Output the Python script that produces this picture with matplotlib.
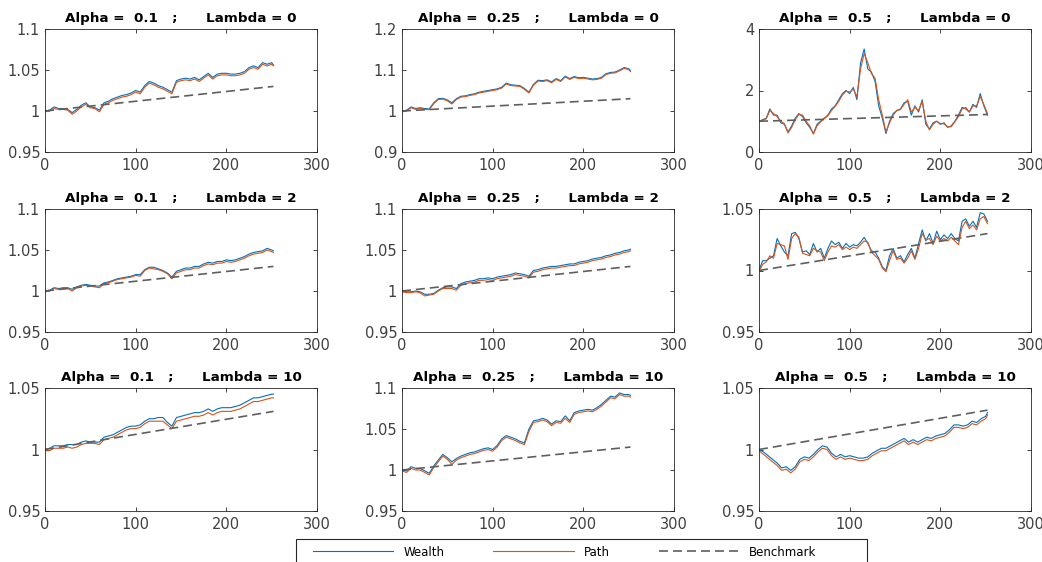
import matplotlib
matplotlib.use('Agg')
import matplotlib.pyplot as plt
from matplotlib.patches import Rectangle

plt.rcParams['font.family'] = ['DejaVu Sans']

blue = '#0072BD'
orange = '#D95319'
grey = '#5f5f5f'
axcol = '#262626'

# day grids (every 5 days / every 4 days for the noisy panels)
t5 = list(range(0, 251, 5)) + [252]
t4 = list(range(0, 253, 4))
bench_t = [0, 252]

alphas = ['0.1', '0.25', '0.5']
lambdas = ['0', '2', '10']

# ---- Lambda = 0 ----
w_a1_l0 = [1.000, 1.001, 1.005, 1.003, 1.003, 1.002, 0.998, 1.002, 1.007, 1.010,
           1.005, 1.004, 1.001, 1.010, 1.012, 1.015, 1.017, 1.019, 1.020, 1.022,
           1.025, 1.023, 1.031, 1.036, 1.034, 1.031, 1.029, 1.026, 1.023, 1.037,
           1.039, 1.040, 1.039, 1.041, 1.038, 1.042, 1.046, 1.041, 1.045, 1.046,
           1.046, 1.045, 1.045, 1.046, 1.048, 1.053, 1.055, 1.053, 1.059, 1.057,
           1.059, 1.056]
p_a1_l0 = [0.999, 1.000, 1.003, 1.002, 1.002, 1.001, 0.996, 1.000, 1.005, 1.008,
           1.004, 1.003, 0.999, 1.008, 1.010, 1.013, 1.015, 1.017, 1.018, 1.020,
           1.023, 1.021, 1.029, 1.034, 1.032, 1.029, 1.027, 1.024, 1.021, 1.035,
           1.037, 1.038, 1.037, 1.039, 1.036, 1.040, 1.044, 1.039, 1.043, 1.044,
           1.044, 1.043, 1.043, 1.044, 1.046, 1.051, 1.053, 1.051, 1.057, 1.055,
           1.057, 1.055]
b_a1_l0 = [1.0, 1.030]

w_a2_l0 = [1.000, 1.002, 1.010, 1.006, 1.008, 1.006, 1.005, 1.020, 1.030, 1.031,
           1.027, 1.020, 1.030, 1.036, 1.037, 1.040, 1.042, 1.046, 1.048, 1.050,
           1.052, 1.054, 1.058, 1.068, 1.064, 1.063, 1.062, 1.055, 1.046, 1.065,
           1.075, 1.074, 1.076, 1.071, 1.079, 1.074, 1.085, 1.079, 1.084, 1.081,
           1.082, 1.080, 1.078, 1.079, 1.082, 1.091, 1.094, 1.095, 1.100, 1.106,
           1.103, 1.098]
p_a2_l0 = [0.998, 1.000, 1.008, 1.004, 1.006, 1.004, 1.003, 1.018, 1.028, 1.029,
           1.025, 1.017, 1.028, 1.034, 1.035, 1.038, 1.040, 1.044, 1.046, 1.048,
           1.050, 1.052, 1.056, 1.066, 1.062, 1.061, 1.060, 1.053, 1.044, 1.063,
           1.073, 1.072, 1.074, 1.069, 1.077, 1.072, 1.083, 1.077, 1.082, 1.079,
           1.080, 1.078, 1.076, 1.077, 1.080, 1.089, 1.092, 1.093, 1.098, 1.104,
           1.101, 1.096]
b_a2_l0 = [1.0, 1.030]

w_a3_l0 = [1.00, 1.05, 1.10, 1.40, 1.20, 1.20, 0.95, 0.90, 0.65, 0.85,
           1.10, 1.25, 1.15, 0.95, 0.80, 0.60, 0.90, 1.00, 1.10, 1.20,
           1.40, 1.50, 1.70, 1.90, 2.00, 1.90, 2.10, 1.70, 2.90, 3.35,
           2.70, 2.60, 2.30, 1.50, 1.10, 0.60, 1.00, 1.25, 1.35, 1.40,
           1.60, 1.65, 1.20, 1.50, 1.30, 1.70, 0.90, 0.75, 0.95, 1.00,
           0.90, 0.95, 0.80, 0.85, 1.00, 1.20, 1.45, 1.40, 1.30, 1.55,
           1.45, 1.90, 1.50, 1.20]
p_a3_l0 = [1.00, 1.03, 1.08, 1.35, 1.25, 1.15, 1.00, 0.92, 0.62, 0.80,
           1.05, 1.22, 1.20, 1.00, 0.85, 0.58, 0.85, 0.98, 1.08, 1.18,
           1.35, 1.48, 1.65, 1.85, 1.98, 1.95, 2.05, 1.80, 2.70, 3.20,
           2.90, 2.55, 2.40, 1.70, 1.20, 0.65, 0.95, 1.20, 1.35, 1.38,
           1.55, 1.70, 1.30, 1.45, 1.35, 1.65, 1.00, 0.72, 0.90, 1.00,
           0.92, 0.92, 0.82, 0.82, 0.98, 1.15, 1.40, 1.45, 1.30, 1.50,
           1.50, 1.80, 1.55, 1.25]
b_a3_l0 = [1.0, 1.22]

# ---- Lambda = 2 ----
w_a1_l2 = [1.000, 1.001, 1.004, 1.003, 1.004, 1.004, 1.002, 1.005, 1.007, 1.008,
           1.007, 1.006, 1.006, 1.010, 1.011, 1.013, 1.015, 1.016, 1.017, 1.018,
           1.020, 1.020, 1.026, 1.029, 1.029, 1.027, 1.025, 1.022, 1.017, 1.024,
           1.026, 1.028, 1.028, 1.030, 1.030, 1.033, 1.035, 1.034, 1.036, 1.036,
           1.038, 1.037, 1.038, 1.040, 1.042, 1.045, 1.047, 1.048, 1.049, 1.052,
           1.050, 1.049]
p_a1_l2 = [0.999, 1.000, 1.003, 1.002, 1.003, 1.003, 1.000, 1.004, 1.006, 1.007,
           1.006, 1.005, 1.004, 1.009, 1.010, 1.012, 1.014, 1.015, 1.016, 1.017,
           1.019, 1.018, 1.025, 1.028, 1.027, 1.026, 1.024, 1.021, 1.015, 1.022,
           1.024, 1.026, 1.026, 1.028, 1.028, 1.031, 1.033, 1.032, 1.034, 1.034,
           1.036, 1.035, 1.036, 1.038, 1.040, 1.043, 1.045, 1.046, 1.047, 1.050,
           1.048, 1.047]
b_a1_l2 = [1.0, 1.030]

w_a2_l2 = [1.000, 0.999, 0.999, 1.000, 0.999, 0.996, 0.996, 0.997, 1.001, 1.004,
           1.005, 1.005, 1.003, 1.009, 1.011, 1.012, 1.013, 1.015, 1.015, 1.016,
           1.015, 1.017, 1.018, 1.019, 1.020, 1.022, 1.021, 1.020, 1.018, 1.025,
           1.026, 1.028, 1.029, 1.030, 1.030, 1.031, 1.032, 1.033, 1.033, 1.035,
           1.036, 1.037, 1.039, 1.040, 1.041, 1.043, 1.044, 1.046, 1.047, 1.049,
           1.050, 1.051]
p_a2_l2 = [0.999, 0.998, 0.998, 0.999, 0.998, 0.994, 0.995, 0.996, 1.000, 1.003,
           1.003, 1.003, 1.001, 1.007, 1.009, 1.010, 1.011, 1.013, 1.013, 1.014,
           1.013, 1.015, 1.016, 1.017, 1.018, 1.020, 1.019, 1.018, 1.016, 1.023,
           1.024, 1.026, 1.027, 1.028, 1.028, 1.029, 1.030, 1.031, 1.031, 1.033,
           1.034, 1.035, 1.037, 1.038, 1.039, 1.041, 1.042, 1.044, 1.045, 1.047,
           1.048, 1.049]
b_a2_l2 = [1.0, 1.030]

w_a3_l2 = [1.000, 1.008, 1.008, 1.010, 1.012, 1.026, 1.020, 1.015, 1.012, 1.030,
           1.031, 1.026, 1.015, 1.016, 1.013, 1.022, 1.015, 1.018, 1.010, 1.018,
           1.024, 1.021, 1.023, 1.018, 1.022, 1.019, 1.021, 1.020, 1.023, 1.027,
           1.022, 1.016, 1.015, 1.010, 1.003, 1.000, 1.012, 1.018, 1.010, 1.012,
           1.007, 1.013, 1.018, 1.010, 1.022, 1.033, 1.024, 1.030, 1.022, 1.032,
           1.025, 1.029, 1.026, 1.030, 1.026, 1.024, 1.040, 1.042, 1.036, 1.040,
           1.035, 1.047, 1.046, 1.040]
p_a3_l2 = [0.999, 1.005, 1.007, 1.012, 1.010, 1.022, 1.021, 1.020, 1.009, 1.026,
           1.030, 1.027, 1.014, 1.013, 1.012, 1.018, 1.016, 1.015, 1.008, 1.015,
           1.020, 1.019, 1.021, 1.017, 1.019, 1.017, 1.019, 1.018, 1.021, 1.024,
           1.023, 1.015, 1.012, 1.009, 1.002, 0.999, 1.008, 1.016, 1.009, 1.010,
           1.006, 1.010, 1.016, 1.009, 1.018, 1.030, 1.025, 1.026, 1.021, 1.028,
           1.024, 1.026, 1.024, 1.027, 1.024, 1.021, 1.035, 1.040, 1.034, 1.037,
           1.033, 1.042, 1.044, 1.038]
b_a3_l2 = [1.0, 1.030]

# ---- Lambda = 10 ----
w_a1_l10 = [1.000, 1.001, 1.003, 1.003, 1.003, 1.004, 1.004, 1.004, 1.006, 1.007,
            1.006, 1.006, 1.006, 1.010, 1.011, 1.012, 1.014, 1.016, 1.018, 1.019,
            1.019, 1.020, 1.023, 1.025, 1.025, 1.026, 1.026, 1.022, 1.019, 1.026,
            1.027, 1.028, 1.029, 1.030, 1.030, 1.031, 1.033, 1.031, 1.033, 1.034,
            1.034, 1.034, 1.035, 1.036, 1.038, 1.040, 1.042, 1.042, 1.043, 1.044,
            1.045, 1.045]
p_a1_l10 = [0.999, 0.999, 1.001, 1.001, 1.001, 1.002, 1.001, 1.002, 1.004, 1.005,
            1.005, 1.005, 1.004, 1.008, 1.009, 1.010, 1.012, 1.014, 1.016, 1.017,
            1.017, 1.018, 1.021, 1.023, 1.023, 1.023, 1.023, 1.020, 1.017, 1.023,
            1.024, 1.025, 1.026, 1.027, 1.027, 1.028, 1.030, 1.028, 1.030, 1.031,
            1.031, 1.031, 1.032, 1.033, 1.035, 1.037, 1.039, 1.039, 1.040, 1.041,
            1.042, 1.042]
b_a1_l10 = [1.0, 1.031]

w_a2_l10 = [1.000, 0.999, 1.004, 1.002, 1.002, 0.999, 0.996, 1.005, 1.012, 1.019,
            1.015, 1.010, 1.014, 1.017, 1.019, 1.021, 1.022, 1.024, 1.026, 1.027,
            1.025, 1.030, 1.038, 1.042, 1.040, 1.038, 1.035, 1.033, 1.050, 1.060,
            1.061, 1.063, 1.061, 1.056, 1.060, 1.059, 1.066, 1.060, 1.070, 1.072,
            1.073, 1.074, 1.073, 1.076, 1.080, 1.085, 1.090, 1.089, 1.094, 1.092,
            1.092, 1.091]
p_a2_l10 = [0.999, 0.997, 1.002, 1.000, 1.000, 0.997, 0.994, 1.003, 1.010, 1.017,
            1.013, 1.007, 1.012, 1.015, 1.017, 1.019, 1.020, 1.022, 1.024, 1.025,
            1.023, 1.028, 1.036, 1.040, 1.038, 1.036, 1.033, 1.031, 1.047, 1.058,
            1.059, 1.061, 1.059, 1.054, 1.058, 1.057, 1.063, 1.058, 1.068, 1.070,
            1.071, 1.072, 1.071, 1.074, 1.078, 1.083, 1.088, 1.087, 1.092, 1.090,
            1.090, 1.089]
b_a2_l10 = [1.0, 1.028]

w_a3_l10 = [1.000, 0.998, 0.995, 0.992, 0.989, 0.985, 0.986, 0.983, 0.986, 0.992,
            0.994, 0.993, 0.996, 1.000, 1.003, 1.002, 0.997, 0.994, 0.996, 0.994,
            0.995, 0.994, 0.993, 0.993, 0.994, 0.997, 0.999, 1.001, 1.001, 1.003,
            1.005, 1.007, 1.009, 1.006, 1.008, 1.006, 1.008, 1.010, 1.009, 1.011,
            1.012, 1.013, 1.016, 1.020, 1.020, 1.019, 1.020, 1.023, 1.022, 1.025,
            1.027, 1.030]
p_a3_l10 = [0.999, 0.996, 0.993, 0.990, 0.987, 0.983, 0.984, 0.981, 0.984, 0.990,
            0.992, 0.991, 0.994, 0.998, 1.001, 1.000, 0.995, 0.992, 0.994, 0.992,
            0.993, 0.992, 0.991, 0.991, 0.992, 0.995, 0.997, 0.999, 0.999, 1.001,
            1.003, 1.005, 1.007, 1.004, 1.006, 1.004, 1.006, 1.008, 1.007, 1.009,
            1.010, 1.011, 1.014, 1.018, 1.018, 1.017, 1.018, 1.021, 1.020, 1.023,
            1.025, 1.028]
b_a3_l10 = [1.0, 1.032]

# (row, col) -> x grid, wealth, path, benchmark, y limits, y ticks
panels = {
    (0, 0): (t5, w_a1_l0, p_a1_l0, b_a1_l0, (0.95, 1.1), [0.95, 1, 1.05, 1.1]),
    (0, 1): (t5, w_a2_l0, p_a2_l0, b_a2_l0, (0.9, 1.2), [0.9, 1, 1.1, 1.2]),
    (0, 2): (t4, w_a3_l0, p_a3_l0, b_a3_l0, (0, 4), [0, 2, 4]),
    (1, 0): (t5, w_a1_l2, p_a1_l2, b_a1_l2, (0.95, 1.1), [0.95, 1, 1.05, 1.1]),
    (1, 1): (t5, w_a2_l2, p_a2_l2, b_a2_l2, (0.95, 1.1), [0.95, 1, 1.05, 1.1]),
    (1, 2): (t4, w_a3_l2, p_a3_l2, b_a3_l2, (0.95, 1.05), [0.95, 1, 1.05]),
    (2, 0): (t5, w_a1_l10, p_a1_l10, b_a1_l10, (0.95, 1.05), [0.95, 1, 1.05]),
    (2, 1): (t5, w_a2_l10, p_a2_l10, b_a2_l10, (0.95, 1.1), [0.95, 1, 1.05, 1.1]),
    (2, 2): (t5, w_a3_l10, p_a3_l10, b_a3_l10, (0.95, 1.05), [0.95, 1, 1.05]),
}

W, H = 1042, 562
fig = plt.figure(figsize=(W / 100, H / 100), dpi=100)

lefts = [45, 402, 759]
tops = [29, 209, 388]
aw, ah = 272, 123

for (r, c), (t, w, p, b, ylim, yt) in panels.items():
    ax = fig.add_axes([lefts[c] / W, 1 - (tops[r] + ah) / H, aw / W, ah / H])
    lw_, = ax.plot(t, w, color=blue, lw=0.8, label='Wealth')
    lp_, = ax.plot(t, p, color=orange, lw=0.8, label='Path')
    lb_, = ax.plot(bench_t, b, color=grey, lw=1.2, ls=(0, (5.4, 3)), label='Benchmark')
    ax.set_xlim(0, 300)
    ax.set_ylim(*ylim)
    ax.set_xticks([0, 100, 200, 300])
    ax.set_yticks(yt)
    ax.set_yticklabels(['%g' % v for v in yt])
    ax.tick_params(direction='in', length=3, width=0.6, colors=axcol,
                   labelsize=10.5, top=True, right=True, pad=3.5)
    ax.tick_params(axis='y', labelcolor='#404040')
    ax.tick_params(axis='x', pad=4, labelcolor='#404040')
    for s in ax.spines.values():
        s.set_color(axcol)
        s.set_linewidth(0.6)
    ax.set_title('Alpha =  %s   ;      Lambda = %s' % (alphas[c], lambdas[r]),
                 fontsize=9.7, fontweight='bold', pad=5)

# legend box at the bottom
fig.patches.append(Rectangle((296 / W, -0.01), (867 - 296) / W, (H - 539) / H + 0.01,
                             transform=fig.transFigure, fill=False,
                             edgecolor=axcol, lw=0.8))
fig.legend(handles=[lw_, lp_, lb_], loc='center left', ncol=3, frameon=False,
           bbox_to_anchor=(313 / W, (H - 552) / H), fontsize=8.5,
           handlelength=6.8, handletextpad=0.85, columnspacing=4.15,
           borderpad=0, borderaxespad=0)

fig.savefig('out.png', dpi=100)
